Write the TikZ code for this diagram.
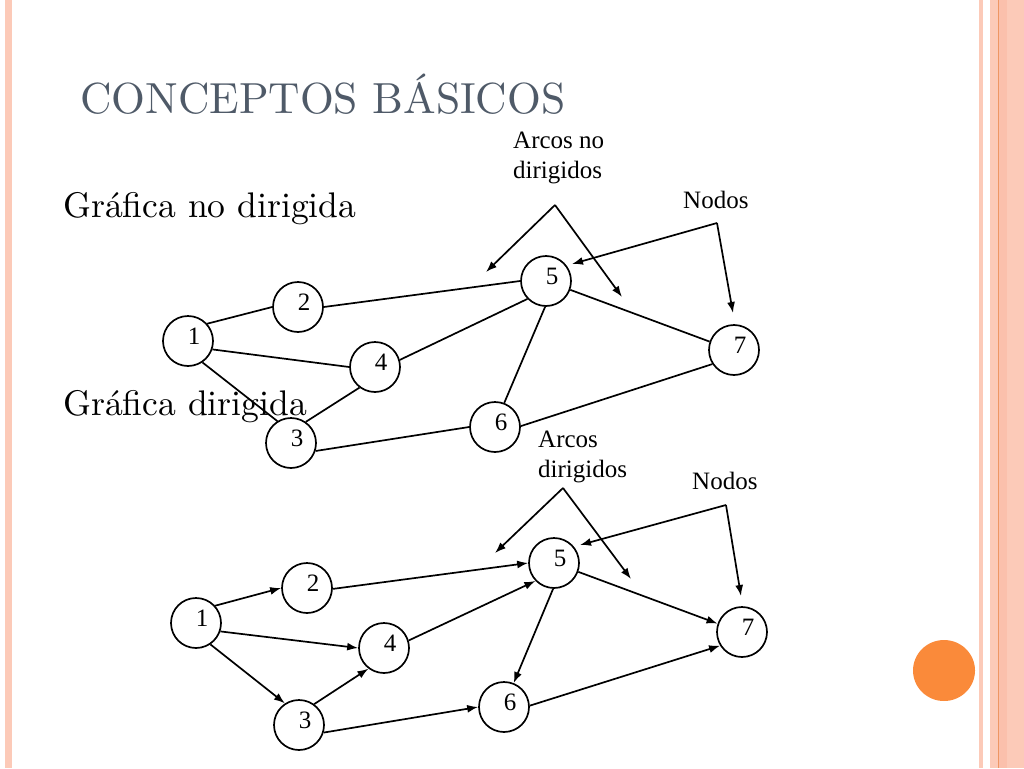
\documentclass[tikz,border=0pt]{standalone}
\usepackage{fontspec}
\usepackage{xcolor}
\usepackage{tikz}
\usetikzlibrary{arrows.meta}
\newfontfamily\timesfont{Liberation Serif}
\newfontfamily\lmdiez[Extension=.otf]{lmroman10-regular}
\definecolor{titulo}{HTML}{4F5A68}
\definecolor{rosa}{HTML}{FCCAB8}
\definecolor{rosaosc}{HTML}{FBC0AC}
\definecolor{linea}{HTML}{EE9664}
\definecolor{naranja}{HTML}{FA8A3A}
\tikzset{
	nodo/.style={circle, draw, line width=1.7pt, minimum size=50pt, inner sep=0pt,
		label={[font=\timesfont\fontsize{25}{30}\selectfont, xshift=6pt, yshift=5pt]center:#1}},
	arco/.style={line width=1.7pt},
	flecha/.style={line width=1.7pt, -{Latex[length=11pt,width=8pt]}},
	nota/.style={font=\timesfont\fontsize{25}{30}\selectfont, align=left, inner sep=0pt},
}
\begin{document}
\begin{tikzpicture}[x=1pt, y=-1pt]
			\useasboundingbox (0,0) rectangle (1024,768);
			%bordes
			\fill[rosa] (5,0) rectangle (12,768);
			\fill[rosa] (979,0) rectangle (983,768);
			\fill[rosa] (990,0) rectangle (1024,768);
			\fill[rosaosc] (999,0) rectangle (1007,768);
			\fill[linea] (997.5,0) rectangle (999,768);
			\fill[naranja] (944,670.5) ellipse (31pt and 30.5pt);
			
			\node[anchor=base west, inner sep=0pt, text=titulo, font=\lmdiez\fontsize{43.5}{50}\selectfont] (titulo) at (80,113) {CONCEPTOS BÁSICOS};
			\node[anchor=base west, inner sep=0pt, font=\lmdiez\fontsize{35.6}{42}\selectfont] (G1) at (63,217) {Gráfica no dirigida};
			\node[anchor=base west, inner sep=0pt, font=\lmdiez\fontsize{35.6}{42}\selectfont] (G2) at (63,415) {Gráfica dirigida};
			
			%no dirigida
			\node[nodo=1] (a1) at (188,341) {};
			\node[nodo=2] (a2) at (298,307) {};
			\node[nodo=3] (a3) at (291,443) {};
			\node[nodo=4] (a4) at (375,367) {};
			\node[nodo=5] (a5) at (546,281) {};
			\node[nodo=6] (a6) at (495,427) {};
			\node[nodo=7] (a7) at (734,350) {};
			\draw[arco] (a1.42) -- (a2.180);
			\draw[arco] (a1.-19) -- (a4.180);
			\draw[arco] (a1.-56) -- (a3.122);
			\draw[arco] (a3.55) -- (a4.-127);
			\draw[arco] (a2.0) -- (a5.180);
			\draw[arco] (a4.16) -- (a5.-136);
			\draw[arco] (a5.-20) -- (a7.161);
			\draw[arco] (a5.-92) -- (a6.69);
			\draw[arco] (a6.2) -- (a7.-147);
			\draw[arco] (a3.-18) -- (a6.180);
			
			\node[nota, anchor=north west] (LA) at (513,132) {Arcos no\\dirigidos};
			\node[nota, anchor=base west] (LN) at (683,208) {Nodos};
			\coordinate (pa) at (555,205);
			\coordinate (pa1) at (486,272);
			\coordinate (pa2) at (622,297);
			\coordinate (pn) at (717,223);
			\coordinate (pn1) at (572,264);
			\coordinate (pn2) at (733,313);
			\draw[flecha] (pa) -- (pa1);
			\draw[flecha] (pa) -- (pa2);
			\draw[flecha] (pn) -- (pn1);
			\draw[flecha] (pn) -- (pn2);
			
			%dirigida
			\node[nodo=1] (b1) at (196,623) {};
			\node[nodo=2] (b2) at (307,588) {};
			\node[nodo=3] (b3) at (299,725) {};
			\node[nodo=4] (b4) at (384,648) {};
			\node[nodo=5] (b5) at (554,563) {};
			\node[nodo=6] (b6) at (504,707) {};
			\node[nodo=7] (b7) at (742,632) {};
			\draw[flecha] (b1.42) -- (b2.180);
			\draw[flecha] (b1.-19) -- (b4.180);
			\draw[flecha] (b1.-56) -- (b3.123);
			\draw[flecha] (b3.54) -- (b4.-127);
			\draw[flecha] (b2.-2) -- (b5.180);
			\draw[flecha] (b4.17) -- (b5.-136);
			\draw[flecha] (b5.-20) -- (b7.161);
			\draw[flecha] (b5.-92) -- (b6.68);
			\draw[flecha] (b6.3) -- (b7.-148);
			\draw[flecha] (b3.-17) -- (b6.180);
			
			\node[nota, anchor=north west] (LB) at (538,431) {Arcos\\dirigidos};
			\node[nota, anchor=base west] (LM) at (692,489) {Nodos};
			\coordinate (qa) at (563,488);
			\coordinate (qa1) at (495,553);
			\coordinate (qa2) at (631,579);
			\coordinate (qn) at (726,505);
			\coordinate (qn1) at (580,545);
			\coordinate (qn2) at (741,596);
			\draw[flecha] (qa) -- (qa1);
			\draw[flecha] (qa) -- (qa2);
			\draw[flecha] (qn) -- (qn1);
			\draw[flecha] (qn) -- (qn2);
			
\end{tikzpicture}
\end{document}
